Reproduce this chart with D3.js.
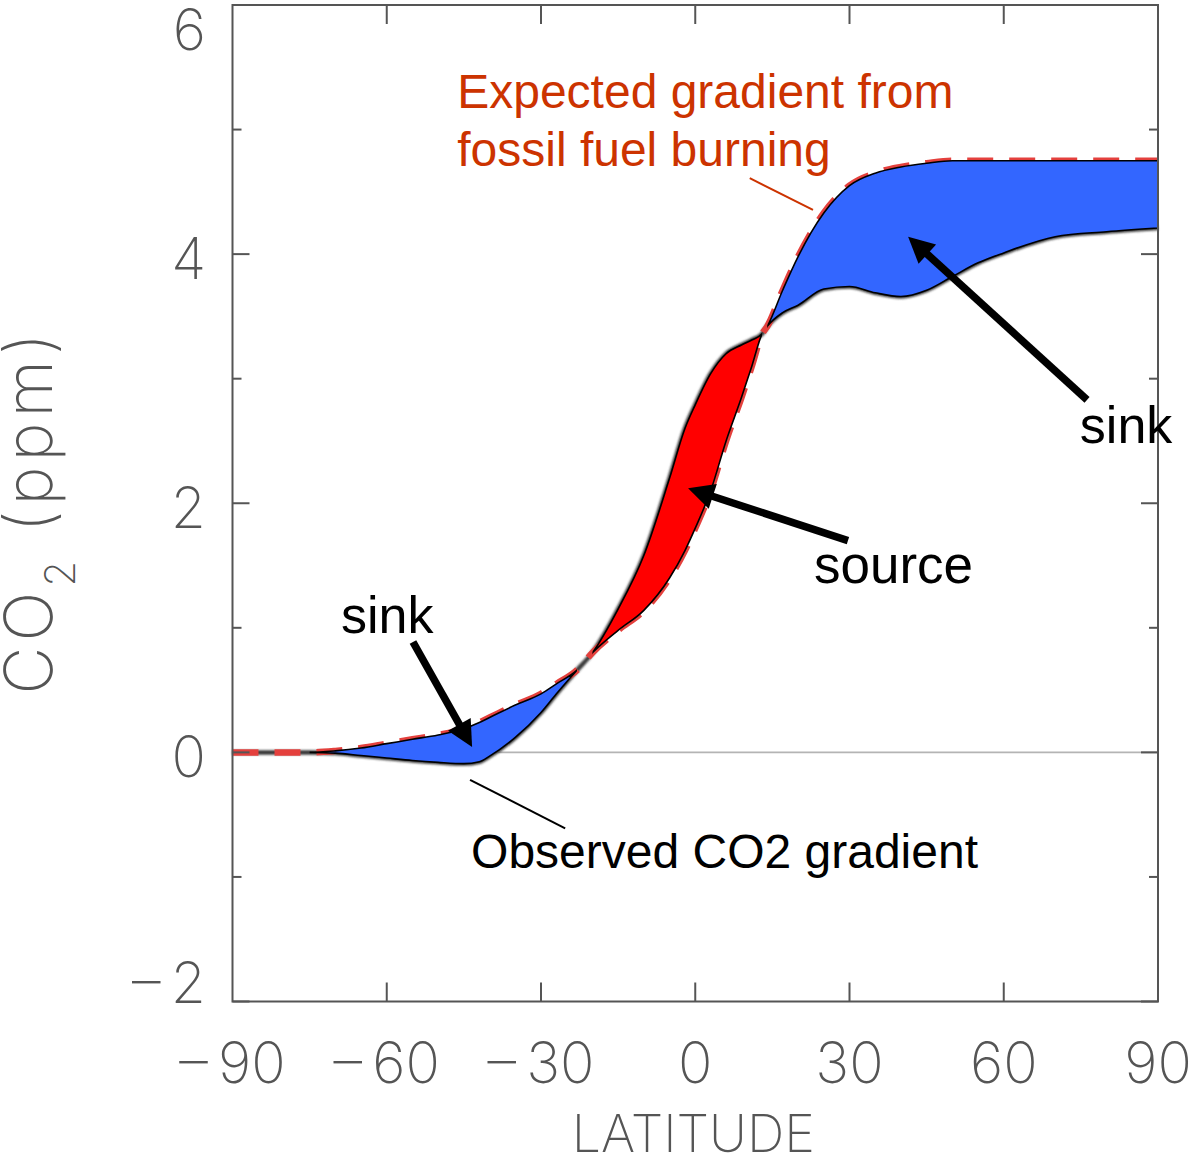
<!DOCTYPE html>
<html>
<head>
<meta charset="utf-8">
<script src="https://cdn.jsdelivr.net/npm/d3@7/dist/d3.min.js"></script>
<style>
  html, body { margin: 0; padding: 0; background: #fff; }
  svg { display: block; }
</style>
</head>
<body>
<svg id="chart" width="1190" height="1155"></svg>
<script>
// Zonal-mean CO2 gradient: expected from fossil fuel burning vs observed.
const latitude = [-90, -80, -75, -70, -65, -60, -55, -50, -45, -42, -40, -35, -30, -27, -23, -20,
                  -15, -10, -5, -2, 0, 3, 6, 9, 11, 13, 14, 17, 20, 25, 30, 35, 40, 45, 50, 55, 60, 70, 80, 90];
const expected = [0, 0, 0, 0.012, 0.035, 0.07, 0.105, 0.14, 0.19, 0.24, 0.28, 0.38, 0.47, 0.55, 0.66, 0.80,
                  0.98, 1.14, 1.40, 1.62, 1.80, 2.10, 2.50, 2.85, 3.10, 3.36, 3.42, 3.71, 3.98, 4.33, 4.55, 4.65, 4.70, 4.73, 4.75, 4.75, 4.75, 4.75, 4.75, 4.75];
const observed = [0, 0, 0, -0.006, -0.025, -0.045, -0.065, -0.08, -0.09, -0.075, -0.03, 0.12, 0.32, 0.47, 0.66, 0.80,
                  1.15, 1.58, 2.20, 2.60, 2.79, 3.04, 3.20, 3.27, 3.31, 3.36, 3.42, 3.53, 3.59, 3.72, 3.74, 3.69, 3.66, 3.71, 3.82, 3.93, 4.01, 4.14, 4.18, 4.21];

const xTickValues = [-90, -60, -30, 0, 30, 60, 90];
const yMajorTicks = [-2, 0, 2, 4, 6];
const yMinorTicks = [-1, 1, 3, 5];

const xTitle = "LATITUDE";

// Annotation texts placed in data units (latitude, ppm)
const labels = [
  { text: "Expected gradient from", lat: -46.3, val: 5.175, size: 48, color: "#cc3300" },
  { text: "fossil fuel burning",    lat: -46.3, val: 4.71,  size: 48, color: "#cc3300" },
  { text: "sink",   lat: 74.8,  val: 2.484, size: 52, color: "#000" },
  { text: "source", lat: 23.1,  val: 1.36,  size: 53, color: "#000" },
  { text: "sink",   lat: -68.9, val: 0.959, size: 52, color: "#000" },
  { text: "Observed CO2 gradient", lat: -43.6, val: -0.928, size: 48, color: "#000" }
];
const arrows = [
  { from: [76.2, 2.83], to: [41.4, 4.14] },
  { from: [29.7, 1.70], to: [-1.4, 2.12] },
  { from: [-54.9, 0.886], to: [-43.4, 0.043] }
];
const leaders = [
  { from: [10.6, 4.61], to: [22.9, 4.355], color: "#cc3300" },
  { from: [-43.8, -0.22], to: [-25.3, -0.61], color: "#000" }
];

const svg = d3.select("#chart");
const plotLeft = 232.5, plotRight = 1158, plotTop = 5, plotBottom = 1001.5;
const x = d3.scaleLinear().domain([-90, 90]).range([plotLeft, plotRight]);
const y = d3.scaleLinear().domain([-2, 6]).range([plotBottom, plotTop]);

const axisColor = "#555";
const tickFont = "Inter, 'DejaVu Sans', sans-serif";

const defs = svg.append("defs");
defs.append("filter").attr("id", "soft").attr("x", "-5%").attr("y", "-5%").attr("width", "110%").attr("height", "110%")
  .append("feGaussianBlur").attr("stdDeviation", 0.9);
defs.append("filter").attr("id", "softer").attr("x", "-5%").attr("y", "-5%").attr("width", "110%").attr("height", "110%")
  .append("feGaussianBlur").attr("stdDeviation", 0.5);

const rows = latitude.map((lat, i) => ({ lat, e: expected[i], o: observed[i] }));
const eps = 1e-6;
const sign = d => (d.e - d.o > eps ? 1 : d.o - d.e > eps ? -1 : 0);

// Latitude ranges where expected exceeds observed (sink) or the reverse (source)
function runs(s) {
  const out = [];
  let i = 0;
  while (i < rows.length) {
    if (sign(rows[i]) === s) {
      let a = i, b = i;
      while (b + 1 < rows.length && sign(rows[b + 1]) === s) b++;
      const lo = a > 0 && sign(rows[a - 1]) === 0 ? a - 1 : a;
      const hi = b < rows.length - 1 && sign(rows[b + 1]) === 0 ? b + 1 : b;
      out.push([rows[lo].lat, rows[hi].lat]);
      i = b + 1;
    } else i++;
  }
  return out;
}

// zero reference line
svg.append("line")
  .attr("x1", x(-90)).attr("x2", x(90)).attr("y1", y(0)).attr("y2", y(0))
  .attr("stroke", "#b4b4b4").attr("stroke-width", 1.6);

const curve = d3.curveMonotoneX;
const obsLine = d3.line().x(d => x(d.lat)).y(d => y(d.o)).curve(curve);
const expLine = d3.line().x(d => x(d.lat)).y(d => y(d.e)).curve(curve);

svg.append("path").datum(rows).attr("d", obsLine)
  .attr("fill", "none").attr("stroke", "#3a3a3a").attr("stroke-width", 4.5)
  .attr("filter", "url(#soft)");

svg.append("path").datum(rows).attr("d", expLine)
  .attr("fill", "none").attr("stroke", "#e4403c").attr("stroke-width", 6.5)
  .attr("stroke-dasharray", "26,16").attr("filter", "url(#softer)");

// Filled differences between the two gradients
function region(s, color, id) {
  const r = runs(s);
  const clip = defs.append("clipPath").attr("id", id);
  r.forEach(([a, b]) => {
    clip.append("rect").attr("x", x(a)).attr("width", x(b) - x(a) + (b === 90 ? 3 : 0))
      .attr("y", 0).attr("height", 1155);
  });
  const area = s > 0
    ? d3.area().x(d => x(d.lat)).y0(d => y(d.o)).y1(d => y(Math.max(d.e, d.o))).curve(curve)
    : d3.area().x(d => x(d.lat)).y0(d => y(d.e)).y1(d => y(Math.max(d.e, d.o))).curve(curve);
  svg.append("path").datum(rows).attr("d", area)
    .attr("clip-path", `url(#${id})`)
    .attr("fill", color).attr("stroke", "#000").attr("stroke-width", 1.6)
    .attr("stroke-linejoin", "round");
}
region(1, "#3366ff", "sinkClip");
region(-1, "#ff0000", "sourceClip");

// Frame and ticks
const axes = svg.append("g").attr("stroke", axisColor).attr("stroke-width", 2).attr("fill", "none");
axes.append("rect").attr("x", plotLeft).attr("y", plotTop).attr("width", plotRight - plotLeft).attr("height", plotBottom - plotTop);
xTickValues.filter(v => v > -90 && v < 90).forEach(v => {
  axes.append("line").attr("x1", x(v)).attr("x2", x(v)).attr("y1", plotBottom).attr("y2", plotBottom - 19);
  axes.append("line").attr("x1", x(v)).attr("x2", x(v)).attr("y1", plotTop).attr("y2", plotTop + 19);
});
yMajorTicks.forEach(v => {
  axes.append("line").attr("x1", plotLeft).attr("x2", plotLeft + 17).attr("y1", y(v)).attr("y2", y(v));
  axes.append("line").attr("x1", plotRight).attr("x2", plotRight - 17).attr("y1", y(v)).attr("y2", y(v));
});
yMinorTicks.forEach(v => {
  axes.append("line").attr("x1", plotLeft).attr("x2", plotLeft + 9).attr("y1", y(v)).attr("y2", y(v));
  axes.append("line").attr("x1", plotRight).attr("x2", plotRight - 9).attr("y1", y(v)).attr("y2", y(v));
});

// tick labels use a long dash for the minus sign
const fmt = v => (v < 0 ? "\u2013\u2009" + Math.abs(v) : String(v));
const tickText = svg.append("g").attr("fill", axisColor)
  .attr("font-family", tickFont).attr("font-weight", 200).attr("font-size", 57);
xTickValues.forEach(v => {
  tickText.append("text").attr("x", x(v)).attr("y", 1083).attr("text-anchor", "middle").text(fmt(v));
});
yMajorTicks.forEach(v => {
  tickText.append("text").attr("x", 206)
    .attr("y", Math.min(Math.max(y(v) + 25, 50), 1003))
    .attr("text-anchor", "end").text(fmt(v));
});

// Axis titles
tickText.append("text").attr("x", (plotLeft + plotRight) / 2 - 2).attr("y", 1152)
  .attr("font-size", 52).attr("text-anchor", "middle").text(xTitle);
const yTitle = tickText.append("text")
  .attr("transform", `translate(52, ${(plotTop + plotBottom) / 2 + 8}) rotate(-90)`)
  .attr("font-size", 66).attr("letter-spacing", 5)
  .attr("text-anchor", "middle");
yTitle.append("tspan").text("CO");
yTitle.append("tspan").attr("font-size", 42).attr("dy", 23).text("2");
yTitle.append("tspan").attr("dy", -23).text(" (ppm)");

// Annotations
const ann = svg.append("g").attr("font-family", "'Liberation Sans', Arial, sans-serif");
labels.forEach(l => {
  ann.append("text").attr("x", x(l.lat)).attr("y", y(l.val))
    .attr("font-size", l.size).attr("fill", l.color).text(l.text);
});
leaders.forEach(l => {
  ann.append("line")
    .attr("x1", x(l.from[0])).attr("y1", y(l.from[1]))
    .attr("x2", x(l.to[0])).attr("y2", y(l.to[1]))
    .attr("stroke", l.color).attr("stroke-width", 2);
});
arrows.forEach(a => {
  const x1 = x(a.from[0]), y1 = y(a.from[1]), x2 = x(a.to[0]), y2 = y(a.to[1]);
  const len = Math.hypot(x2 - x1, y2 - y1);
  const ux = (x2 - x1) / len, uy = (y2 - y1) / len;
  const headLen = 26, headHalf = 13;
  const bx = x2 - ux * headLen, by = y2 - uy * headLen;
  ann.append("line").attr("x1", x1).attr("y1", y1).attr("x2", bx + ux * 2).attr("y2", by + uy * 2)
    .attr("stroke", "#000").attr("stroke-width", 7.5);
  ann.append("path")
    .attr("d", `M${x2},${y2}L${bx - uy * headHalf},${by + ux * headHalf}L${bx + uy * headHalf},${by - ux * headHalf}Z`)
    .attr("fill", "#000");
});
</script>
</body>
</html>
